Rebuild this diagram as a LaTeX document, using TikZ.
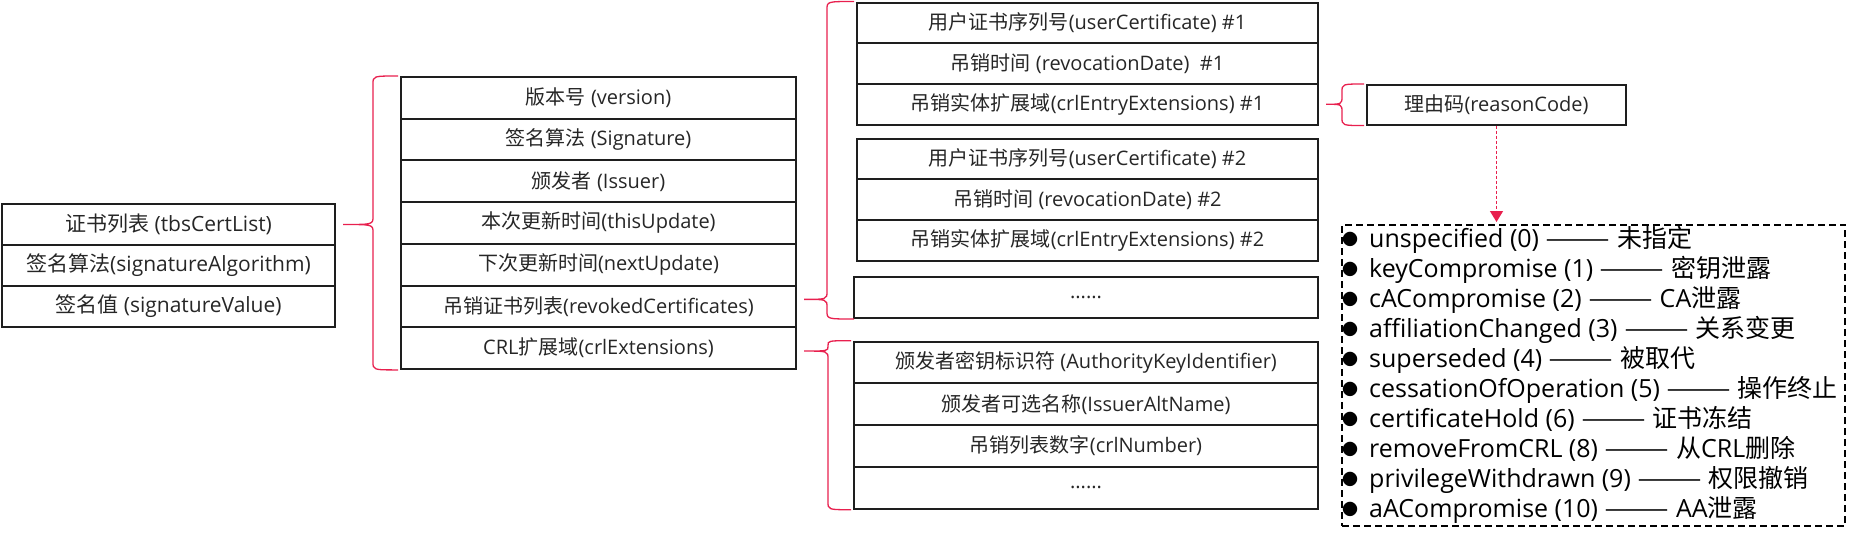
\documentclass[tikz,border=0pt]{standalone}
\usepackage{fontspec}
\usepackage{graphicx}
\setmainfont{Open Sans}
\newfontfamily\cjkf{Noto Sans CJK SC}
\newfontfamily\latf{Open Sans}
\usetikzlibrary{arrows.meta,calc}
% automatic switch to the CJK font for CJK characters
\XeTeXinterchartokenstate=1
\newXeTeXintercharclass\cjkclass
\count255="4E00
\loop
  \XeTeXcharclass\count255=\cjkclass
  \advance\count255 by 1
\ifnum\count255<"A000 \repeat
\XeTeXcharclass"25CF=\cjkclass
\XeTeXinterchartoks 0 \cjkclass = {\cjkf}
\XeTeXinterchartoks 4095 \cjkclass = {\cjkf}
\XeTeXinterchartoks \cjkclass 0 = {\latf}
\XeTeXinterchartoks \cjkclass 4095 = {\latf}
\definecolor{boxc}{HTML}{1E1E1E}
\definecolor{textc}{HTML}{262626}
\definecolor{bracec}{HTML}{E8204E}
\newcommand\boxfont{\fontsize{20}{24}\selectfont}
\newcommand\bigboxfont{\fontsize{21}{25}\selectfont}
\newcommand\listfont{\fontsize{25}{30}\selectfont}
\newcommand\longdash{{\cjkf\scalebox{1.55}[1]{——}}}
\newcommand\itembullet{\makebox[28pt][l]{\hspace{1pt}\raisebox{1.3pt}{\fontsize{16}{16}\selectfont ●}}}
\tikzset{
  rowbox/.style={draw=boxc, line width=2pt, anchor=north west, inner sep=0pt,
    text=textc, font=\boxfont},
  lrow/.style={rowbox, minimum width=333pt, minimum height=41pt, font=\bigboxfont},
  mrow/.style={rowbox, minimum width=395pt, minimum height=41.7pt},
  urow/.style={rowbox, minimum width=461pt, minimum height=40.7pt},
  lorow/.style={rowbox, minimum width=464pt, minimum height=41.75pt},
  brace/.style={draw=bracec, line width=1.3pt},
  codebox/.style={draw=black, line width=2pt, dash pattern=on 7pt off 4pt,
    anchor=north west, inner sep=0pt},
  item/.style={anchor=base west, inner sep=0pt, text=black, font=\listfont},
  reasonarrow/.style={draw=bracec, line width=1.3pt, dash pattern=on 3pt off 2pt,
    -{Triangle[width=13pt,length=11pt]}}
}
% #1 source node, #2 tip y shift, #3 first row, #4 last row, #5 gap of vertical from row west
\newcommand\bracefrom[5]{%
  \path[brace] let \p1=($(#1.east)+(7,#2)$), \p2=(#3.north west), \p3=(#4.south west),
    \n1={min(8,(\y2-\y1)/2.2)}, \n2={min(8,(\y1-\y3)/2.2)} in
    (\x2-2pt,\y2) .. controls (\x2-#5pt,\y2) .. (\x2-#5pt,\y2-\n1)
    -- (\x2-#5pt,\y1+\n1) .. controls (\x2-#5pt,\y1) .. (\x1,\y1)
    .. controls (\x2-#5pt,\y1) .. (\x2-#5pt,\y1-\n2)
    -- (\x2-#5pt,\y3+\n2) .. controls (\x2-#5pt,\y3) .. (\x2-2pt,\y3);
}
\begin{document}
\begin{tikzpicture}[x=1pt,y=-1pt]
\useasboundingbox (0,0) rectangle (1853,539);
% left column
\node[lrow] (tbs) at (1,203) {证书列表 (tbsCertList)};
\node[lrow] (salg) at (1,244) {签名算法(signatureAlgorithm)};
\node[lrow] (sval) at (1,285) {签名值 (signatureValue)};
% middle column
\node[mrow] (ver) at (400,76) {版本号 (version)};
\node[mrow] (sig) at (400,117.7) {签名算法 (Signature)};
\node[mrow] (iss) at (400,159.4) {颁发者 (Issuer)};
\node[mrow] (this) at (400,201.1) {本次更新时间(thisUpdate)};
\node[mrow] (next) at (400,242.8) {下次更新时间(nextUpdate)};
\node[mrow] (rev) at (400,284.5) {吊销证书列表(revokedCertificates)};
\node[mrow] (ext) at (400,326.2) {CRL扩展域(crlExtensions)};
% revoked certificates
\node[urow] (uc1) at (856,1.5) {用户证书序列号(userCertificate) \#1};
\node[urow] (rd1) at (856,42.2) {吊销时间 (revocationDate)~ \#1};
\node[urow] (ce1) at (856,82.9) {吊销实体扩展域(crlEntryExtensions) \#1};
\node[urow] (uc2) at (856,137.5) {用户证书序列号(userCertificate) \#2};
\node[urow] (rd2) at (856,178.2) {吊销时间 (revocationDate) \#2};
\node[urow] (ce2) at (856,218.9) {吊销实体扩展域(crlEntryExtensions) \#2};
\node[lorow, minimum height=41.3pt] (dots1) at (853,275.7) {......};
% CRL extensions
\node[lorow] (aki) at (853,340.7) {颁发者密钥标识符 (AuthorityKeyIdentifier)};
\node[lorow] (ian) at (853,382.45) {颁发者可选名称(IssuerAltName)};
\node[lorow] (crln) at (853,424.2) {吊销列表数字(crlNumber)};
\node[lorow] (dots2) at (853,465.95) {......};
% reason code
\node[rowbox, minimum width=259pt, minimum height=39.5pt] (reason) at (1366,84) {理由码(reasonCode)};
\node[codebox, minimum width=503pt, minimum height=301.5pt] (codes) at (1341,223.5) {};
\foreach \i/\t/\z in {
  0/{unspecified (0)}/{未指定},
  1/{keyCompromise (1)}/{密钥泄露},
  2/{cACompromise (2)}/{CA泄露},
  3/{affiliationChanged (3)}/{关系变更},
  4/{superseded (4)}/{被取代},
  5/{cessationOfOperation (5)}/{操作终止},
  6/{certificateHold (6)}/{证书冻结},
  7/{removeFromCRL (8)}/{从CRL删除},
  8/{privilegeWithdrawn (9)}/{权限撤销},
  9/{aACompromise (10)}/{AA泄露}}
  \node[item] (r\i) at (1341,{247+30*\i}) {\itembullet\t{} \longdash{} \z};
% braces
\bracefrom{tbs}{0}{ver}{ext}{27}
\bracefrom{rev}{-7}{uc1}{dots1}{29}
\bracefrom{ext}{3}{aki}{dots2}{25}
\bracefrom{ce1}{0}{reason}{reason}{24}
% arrow
\draw[reasonarrow] (reason.south) -- ([yshift=1.5pt]reason.south |- codes.north);
\end{tikzpicture}
\end{document}
